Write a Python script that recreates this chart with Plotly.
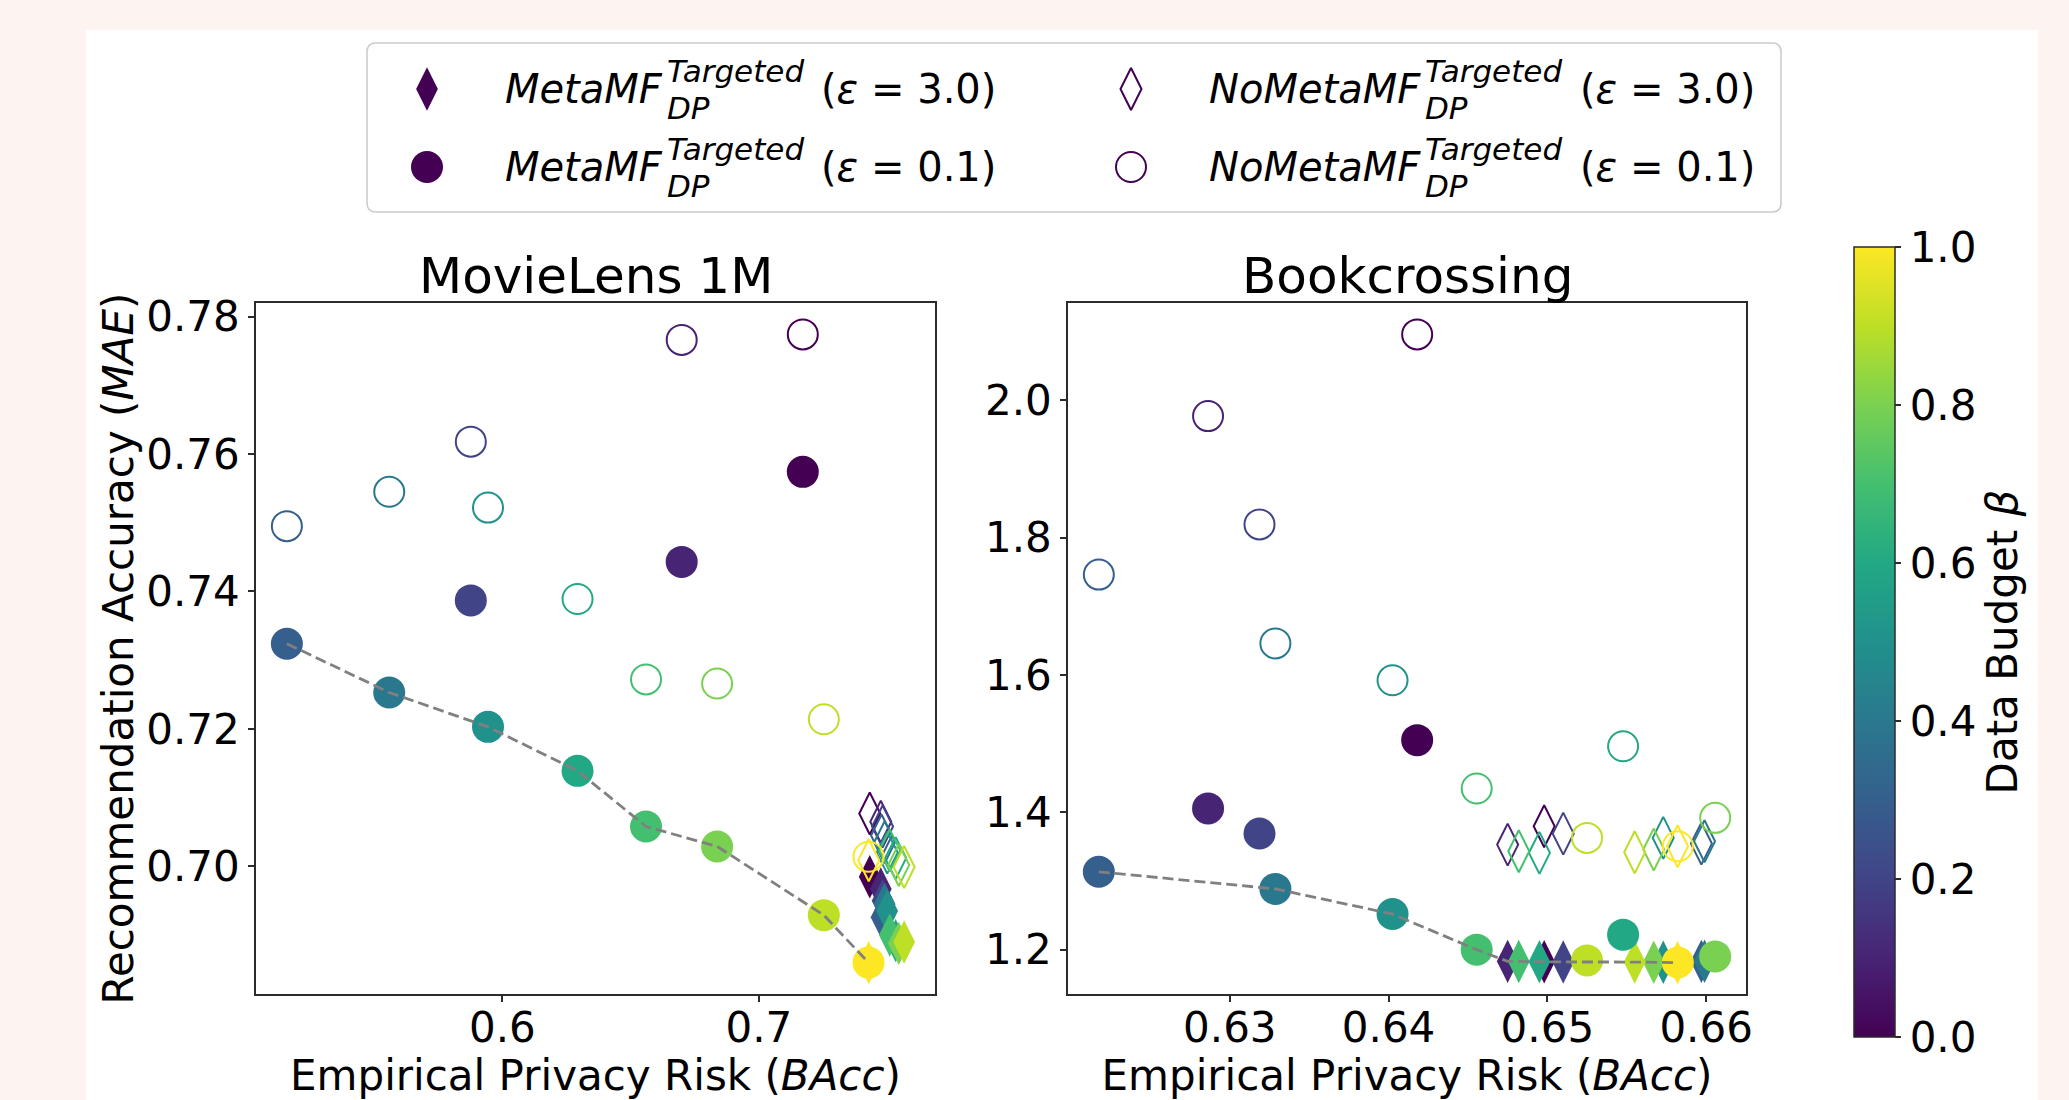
import plotly.graph_objects as go

# ---------------- data ----------------
BETA = [0.0, 0.1, 0.2, 0.3, 0.4, 0.5, 0.6, 0.7, 0.8, 0.9, 1.0]

# MovieLens 1M  (x = BAcc, y = MAE)
ML_BACC_EPS01 = [0.7171, 0.6699, 0.5877, 0.5160, 0.5559, 0.5944, 0.6293, 0.6560, 0.6837, 0.7253, 0.7427]
ML_META_EPS01 = [0.7574, 0.7443, 0.7387, 0.7324, 0.7253, 0.7203, 0.7139, 0.7058, 0.7029, 0.6929, 0.6860]
ML_NOMETA_EPS01 = [0.7774, 0.7766, 0.7618, 0.7495, 0.7545, 0.7522, 0.7389, 0.7272, 0.7266, 0.7214, 0.7014]
ML_BACC_EPS3 = [0.7432, 0.7475, 0.7482, 0.7478, 0.7490, 0.7500, 0.7533, 0.7510, 0.7545, 0.7566, 0.7428]
ML_META_EPS3 = [0.6985, 0.6967, 0.6950, 0.6926, 0.6945, 0.6935, 0.6892, 0.6900, 0.6888, 0.6890, 0.6860]
ML_NOMETA_EPS3 = [0.7077, 0.7065, 0.7058, 0.7045, 0.7035, 0.7020, 0.7012, 0.7023, 0.7002, 0.6999, 0.7009]

# Bookcrossing
BX_BACC_EPS01 = [0.64180, 0.62863, 0.63187, 0.62175, 0.63287, 0.64025, 0.65477, 0.64555, 0.66057, 0.65250, 0.65822]
BX_META_EPS01 = [1.5051, 1.4057, 1.3692, 1.3134, 1.2885, 1.2519, 1.2219, 1.2000, 1.1902, 1.1844, 1.1815]
BX_NOMETA_EPS01 = [2.0960, 1.9770, 1.8193, 1.7462, 1.6460, 1.5923, 1.4962, 1.4347, 1.3920, 1.3628, 1.3506]
BX_BACC_EPS3 = [0.6498, 0.6475, 0.6510, 0.6597, 0.6599, 0.6573, 0.6495, 0.6482, 0.6567, 0.6555, 0.6582]
BX_META_EPS3 = [1.1824, 1.1830, 1.1821, 1.1830, 1.1832, 1.1816, 1.1826, 1.1828, 1.1818, 1.1820, 1.1812]
BX_NOMETA_EPS3 = [1.3798, 1.3530, 1.3690, 1.3545, 1.3580, 1.3628, 1.3410, 1.3433, 1.3458, 1.3419, 1.3506]

TITLES = ["MovieLens 1M", "Bookcrossing"]
ML_XTICKS = [0.6, 0.7]
ML_YTICKS = [0.70, 0.72, 0.74, 0.76, 0.78]
BX_XTICKS = [0.63, 0.64, 0.65, 0.66]
BX_YTICKS = [1.2, 1.4, 1.6, 1.8, 2.0]
CB_TICKS = [0.0, 0.2, 0.4, 0.6, 0.8, 1.0]

LEGEND_ENTRIES = [
    ("MetaMF", "3.0", "diamond-tall"),
    ("MetaMF", "0.1", "circle"),
    ("NoMetaMF", "3.0", "diamond-tall-open"),
    ("NoMetaMF", "0.1", "circle-open"),
]

# ---------------- styling ----------------
W, H = 2069, 1100
FONT = "DejaVu Sans"
PINK = "#fdf3f0"
AXC = "#2b2b2b"
VIRIDIS = [[0.0, "#440154"], [0.1, "#482475"], [0.2, "#414487"], [0.3, "#355f8d"],
           [0.4, "#2a788e"], [0.5, "#21918c"], [0.6, "#22a884"], [0.7, "#44bf70"],
           [0.8, "#7ad151"], [0.9, "#bddf26"], [1.0, "#fde725"]]


def fx(p):
    return p / W


def fy(p):
    return 1 - p / H


AX_L = (256, 935)
AX_R = (1068, 1746)
AX_Y = (303, 994)


def pareto(xs, ys):
    best = float("inf")
    px, py = [], []
    for x, y in sorted(zip(xs, ys)):
        if y < best:
            px.append(x)
            py.append(y)
            best = y
    return px, py


def padded(vals):
    lo, hi = min(vals), max(vals)
    s = hi - lo
    return [lo - 0.05 * s, hi + 0.05 * s]


fig = go.Figure()

panels = [
    ("x", "y", ML_BACC_EPS01, ML_META_EPS01, ML_NOMETA_EPS01, ML_BACC_EPS3, ML_META_EPS3, ML_NOMETA_EPS3),
    ("x2", "y2", BX_BACC_EPS01, BX_META_EPS01, BX_NOMETA_EPS01, BX_BACC_EPS3, BX_META_EPS3, BX_NOMETA_EPS3),
]

ranges = []
for xa, ya, bx01, m01, n01, bx3, m3, n3 in panels:
    series = [
        (bx3, m3, "diamond-tall", 31, 0),
        (bx01, m01, "circle", 32, 0),
        (bx3, n3, "diamond-tall-open", 30, 2),
        (bx01, n01, "circle-open", 30, 2),
    ]
    for xs, ys, sym, sz, lw in series:
        fig.add_trace(go.Scatter(
            x=xs, y=ys, mode="markers", xaxis=xa, yaxis=ya,
            marker=dict(symbol=sym, size=sz, color=BETA, coloraxis="coloraxis",
                        line=dict(width=lw)),
            showlegend=False, hoverinfo="skip"))
    px_, py_ = pareto(bx3 + bx01, m3 + m01)
    fig.add_trace(go.Scatter(
        x=px_, y=py_, mode="lines", xaxis=xa, yaxis=ya,
        line=dict(color="#808080", width=2.8, dash="11px,5px"),
        showlegend=False, hoverinfo="skip"))
    ranges.append((padded(bx01 + bx3), padded(m01 + n01 + m3 + n3)))

axis_common = dict(showline=True, mirror=True, linecolor=AXC, linewidth=1.6,
                   ticks="outside", ticklen=6, tickwidth=1.5, tickcolor=AXC,
                   showgrid=False, zeroline=False, automargin=False,
                   tickfont=dict(size=42, color="black", family=FONT))
xtitle = dict(text="Empirical Privacy Risk (<i>BAcc</i>)",
              font=dict(size=42, color="black", family=FONT), standoff=2)

fig.update_layout(
    xaxis=dict(domain=[fx(AX_L[0]), fx(AX_L[1])], anchor="y", range=ranges[0][0],
               tickvals=ML_XTICKS, tickformat=".1f", title=xtitle, ticklabelstandoff=-10,
               **axis_common),
    yaxis=dict(domain=[fy(AX_Y[1]), fy(AX_Y[0])], anchor="x", range=ranges[0][1],
               tickvals=ML_YTICKS, tickformat=".2f",
               title=dict(text="Recommendation Accuracy (<i>MAE</i>)",
                          font=dict(size=42, color="black", family=FONT), standoff=0),
               **axis_common),
    xaxis2=dict(domain=[fx(AX_R[0]), fx(AX_R[1])], anchor="y2", range=ranges[1][0],
                tickvals=BX_XTICKS, tickformat=".2f", title=xtitle, ticklabelstandoff=-10,
                **axis_common),
    yaxis2=dict(domain=[fy(AX_Y[1]), fy(AX_Y[0])], anchor="x2", range=ranges[1][1],
                tickvals=BX_YTICKS, tickformat=".1f", **axis_common),
    xaxis3=dict(domain=[0, 1], anchor="y3", range=[0, W], visible=False, fixedrange=True),
    yaxis3=dict(domain=[0, 1], anchor="x3", range=[H, 0], visible=False, fixedrange=True),
    coloraxis=dict(
        colorscale=VIRIDIS, cmin=0, cmax=1,
        colorbar=dict(
            thickness=41, thicknessmode="pixels", len=790 / H, lenmode="fraction",
            x=fx(1854), xanchor="left", y=fy(642), yanchor="middle", xpad=0, ypad=0,
            outlinewidth=1.5, outlinecolor=AXC,
            ticks="outside", ticklen=6, tickwidth=1.5, tickcolor=AXC,
            tickvals=CB_TICKS, tickformat=".1f",
            tickfont=dict(size=42, color="black", family=FONT),
            title=dict(text="Data Budget <i>β</i>", side="right",
                       font=dict(size=42, color="black", family=FONT)))),
    width=W, height=H,
    margin=dict(l=0, r=0, t=0, b=0, autoexpand=False),
    paper_bgcolor=PINK, plot_bgcolor="rgba(0,0,0,0)",
    showlegend=False,
    font=dict(family=FONT, color="black"),
)

# white figure panel
fig.add_shape(type="rect", xref="paper", yref="paper", x0=fx(86), x1=fx(2038),
              y0=0, y1=fy(30), fillcolor="white", line=dict(width=0), layer="below")

# subplot titles
for title, (a, b) in zip(TITLES, [AX_L, AX_R]):
    fig.add_annotation(text=title, xref="paper", yref="paper", x=fx((a + b) / 2),
                       y=fy(276), xanchor="center", yanchor="middle", showarrow=False,
                       font=dict(size=50, color="black", family=FONT))

# ---------------- legend (custom, to stack super/subscripts) ----------------
LX0, LX1, LY0, LY1, R = 367, 1781, 43, 212, 9
path = (f"M {fx(LX0 + R)},{fy(LY0)} L {fx(LX1 - R)},{fy(LY0)} Q {fx(LX1)},{fy(LY0)} {fx(LX1)},{fy(LY0 + R)} "
        f"L {fx(LX1)},{fy(LY1 - R)} Q {fx(LX1)},{fy(LY1)} {fx(LX1 - R)},{fy(LY1)} "
        f"L {fx(LX0 + R)},{fy(LY1)} Q {fx(LX0)},{fy(LY1)} {fx(LX0)},{fy(LY1 - R)} "
        f"L {fx(LX0)},{fy(LY0 + R)} Q {fx(LX0)},{fy(LY0)} {fx(LX0 + R)},{fy(LY0)} Z")
fig.add_shape(type="path", path=path, xref="paper", yref="paper",
              fillcolor="white", line=dict(color="#cccccc", width=1.6), layer="below")

CW = {"M": .863, "e": .615, "t": .392, "a": .613, "F": .575, "N": .748, "o": .612,
      "T": .611, "r": .411, "g": .635, "d": .635}


def tw(s, size):
    return sum(CW.get(c, .6) for c in s) * size


SUP = 31
KEY_X0, KEY_Y0, COL_W, ROW_H = 427, 89, 704, 78
for i, (name, eps, sym) in enumerate(LEGEND_ENTRIES):
    col, row = divmod(i, 2)
    kx = KEY_X0 + col * COL_W
    ky = KEY_Y0 + row * ROW_H
    is_open = sym.endswith("open")
    fig.add_trace(go.Scatter(
        x=[kx], y=[ky], mode="markers", xaxis="x3", yaxis="y3",
        marker=dict(symbol=sym, size=(30 if is_open else (31 if "diamond" in sym else 32)),
                    color="#440154", line=dict(width=2 if is_open else 0, color="#440154")),
        showlegend=False, hoverinfo="skip"))
    tx = kx + 77
    fig.add_annotation(text=f"<i>{name}</i>", xref="paper", yref="paper", x=fx(tx), y=fy(ky),
                       xanchor="left", yanchor="middle", showarrow=False, borderpad=0,
                       font=dict(size=40, color="black", family=FONT))
    sx = tx + tw(name, 40) + 5
    fig.add_annotation(text="<i>Targeted</i>", xref="paper", yref="paper", x=fx(sx), y=fy(ky - 18),
                       xanchor="left", yanchor="middle", showarrow=False, borderpad=0,
                       font=dict(size=SUP, color="black", family=FONT))
    fig.add_annotation(text="<i>DP</i>", xref="paper", yref="paper", x=fx(sx), y=fy(ky + 18.5),
                       xanchor="left", yanchor="middle", showarrow=False, borderpad=0,
                       font=dict(size=SUP, color="black", family=FONT))
    ex = sx + tw("Targeted", SUP) + 14
    fig.add_annotation(text=f"(<i>ε</i> = {eps})", xref="paper", yref="paper", x=fx(ex), y=fy(ky),
                       xanchor="left", yanchor="middle", showarrow=False, borderpad=0,
                       font=dict(size=40, color="black", family=FONT))

fig.write_html("out.html", config={"displayModeBar": False},
               post_script="document.body.style.margin='0';document.body.style.overflow='hidden';")
